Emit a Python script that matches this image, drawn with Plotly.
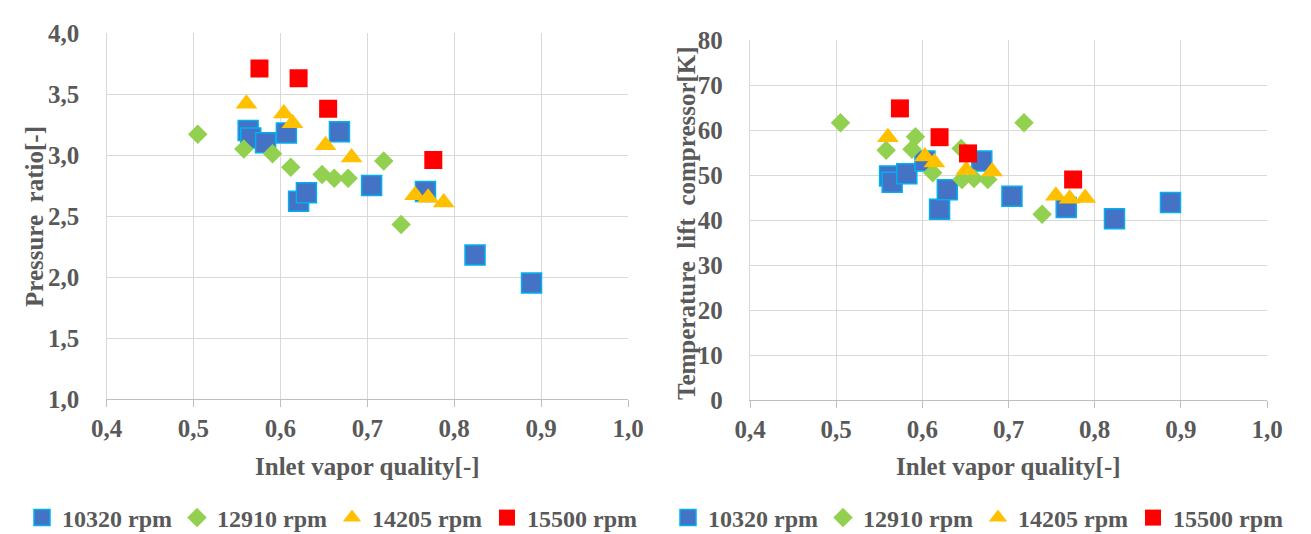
import plotly.graph_objects as go

W, H = 1311, 534

# ---- data (left panel: pressure ratio) ----
left_x_10320 = [0.563, 0.566, 0.583, 0.607, 0.668, 0.621, 0.630, 0.705, 0.767, 0.824, 0.889]
left_pr_10320 = [3.20, 3.14, 3.10, 3.18, 3.19, 2.62, 2.69, 2.75, 2.70, 2.18, 1.95]
left_x_12910 = [0.505, 0.558, 0.591, 0.612, 0.648, 0.662, 0.678, 0.719, 0.739]
left_pr_12910 = [3.17, 3.05, 3.01, 2.90, 2.84, 2.81, 2.81, 2.95, 2.43]
left_x_14205 = [0.561, 0.604, 0.614, 0.652, 0.682, 0.755, 0.770, 0.788]
left_pr_14205 = [3.42, 3.34, 3.26, 3.08, 2.98, 2.67, 2.65, 2.61]
left_x_15500 = [0.576, 0.621, 0.655, 0.776]
left_pr_15500 = [3.71, 3.63, 3.38, 2.96]

# ---- data (right panel: temperature lift) ----
right_x_10320 = [0.562, 0.565, 0.582, 0.603, 0.669, 0.620, 0.629, 0.704, 0.767, 0.823, 0.888]
right_dt_10320 = [49.8, 48.4, 50.3, 53.1, 53.1, 42.4, 46.7, 45.3, 42.8, 40.3, 43.9]
right_x_12910 = [0.505, 0.558, 0.588, 0.592, 0.612, 0.645, 0.646, 0.660, 0.676, 0.718, 0.739]
right_dt_12910 = [61.6, 55.5, 55.7, 58.5, 50.5, 55.9, 49.0, 49.2, 49.0, 61.6, 41.3]
right_x_14205 = [0.560, 0.603, 0.614, 0.651, 0.681, 0.755, 0.771, 0.789]
right_dt_14205 = [58.4, 54.1, 52.8, 51.1, 50.8, 45.4, 44.7, 44.9]
right_x_15500 = [0.574, 0.620, 0.653, 0.775]
right_dt_15500 = [64.8, 58.4, 54.8, 49.0]

series_names = ["10320 rpm", "12910 rpm", "14205 rpm", "15500 rpm"]

FONT = "Liberation Serif"
GREY = "#595959"
GRID = "#d9d9d9"
AXIS = "#bfbfbf"

styles = [
    dict(symbol="square", size=20, color="#4472C4", line=dict(color="#00B0F0", width=1.5)),
    dict(symbol="diamond", size=15, color="#92D050", line=dict(width=0)),
    dict(symbol="triangle-up", size=19, color="#FFC000", line=dict(width=0)),
    dict(symbol="square", size=18, color="#FF0000", line=dict(width=0)),
]

fig = go.Figure()

left_sets = [(left_x_10320, left_pr_10320), (left_x_12910, left_pr_12910),
             (left_x_14205, left_pr_14205), (left_x_15500, left_pr_15500)]
right_sets = [(right_x_10320, right_dt_10320), (right_x_12910, right_dt_12910),
              (right_x_14205, right_dt_14205), (right_x_15500, right_dt_15500)]

for name, st, (xs, ys) in zip(series_names, styles, left_sets):
    fig.add_trace(go.Scatter(x=xs, y=ys, mode="markers", name=name, marker=st,
                             xaxis="x", yaxis="y", legend="legend"))
for name, st, (xs, ys) in zip(series_names, styles, right_sets):
    fig.add_trace(go.Scatter(x=xs, y=ys, mode="markers", name=name, marker=st,
                             xaxis="x2", yaxis="y2", legend="legend2"))


def tickfont():
    return dict(family=FONT, size=25, color=GREY, weight="bold")


def xaxis(domain, anchor):
    return dict(domain=domain, anchor=anchor, range=[0.4, 1.0], dtick=0.1, tick0=0.4,
                tickformat=".1f", showgrid=True, gridcolor=GRID, gridwidth=1.3,
                showline=True, linecolor=AXIS, linewidth=1.3, ticks="outside",
                ticklen=7, tickcolor=AXIS, tickwidth=1.3, tickfont=tickfont(),
                ticklabelstandoff=0,
                zeroline=False, automargin=False, fixedrange=True)


def yaxis(domain, anchor, rng, dtick, fmt):
    return dict(domain=domain, anchor=anchor, range=rng, dtick=dtick, tickformat=fmt,
                showgrid=True, gridcolor=GRID, gridwidth=1.3, showline=True,
                linecolor=GRID, linewidth=1.3, ticks="", tickfont=tickfont(),
                ticklabelstandoff=21, zeroline=False, automargin=False, fixedrange=True)


def px_x(p):
    return p / W


def px_y(p):
    return 1 - p / H


titlefont = dict(family=FONT, size=25, color=GREY, weight="bold")
legfont = dict(family=FONT, size=24, color=GREY, weight="bold")

fig.update_layout(
    width=W, height=H,
    margin=dict(l=0, r=0, t=0, b=0, autoexpand=False),
    paper_bgcolor="white", plot_bgcolor="white",
    font=dict(family=FONT, color=GREY),
    separators=", ",
    xaxis=xaxis([px_x(106.5), px_x(628)], "y"),
    yaxis=yaxis([px_y(399), px_y(33)], "x", [1.0, 4.0], 0.5, ".1f"),
    xaxis2=xaxis([px_x(750), px_x(1267)], "y2"),
    yaxis2=yaxis([px_y(400), px_y(40)], "x2", [0, 80], 10, "d"),
    legend=dict(orientation="h", x=px_x(332), y=px_y(518), xanchor="center", yanchor="middle",
                xref="container", yref="container",
                font=legfont, bgcolor="rgba(0,0,0,0)", itemclick=False, itemdoubleclick=False,
                tracegroupgap=0),
    legend2=dict(orientation="h", x=px_x(978), y=px_y(518), xanchor="center", yanchor="middle",
                 xref="container", yref="container",
                 font=legfont, bgcolor="rgba(0,0,0,0)", itemclick=False, itemdoubleclick=False,
                 tracegroupgap=0),
    annotations=[
        dict(text="Pressure  ratio[-]", x=px_x(34), y=px_y(217), xref="paper", yref="paper",
             textangle=-90, showarrow=False, font=titlefont, xanchor="center", yanchor="middle"),
        dict(text="Inlet vapor quality[-]", x=px_x(367), y=px_y(466), xref="paper", yref="paper",
             showarrow=False, font=titlefont, xanchor="center", yanchor="middle"),
        dict(text="Temperature  lift  compressor[K]", x=px_x(686), y=px_y(223), xref="paper",
             yref="paper", textangle=-90, showarrow=False, font=titlefont,
             xanchor="center", yanchor="middle"),
        dict(text="Inlet vapor quality[-]", x=px_x(1008), y=px_y(466), xref="paper", yref="paper",
             showarrow=False, font=titlefont, xanchor="center", yanchor="middle"),
    ],
)

fig.write_html("out.html", config={"displayModeBar": False},
               post_script="document.body.style.margin='0';")
